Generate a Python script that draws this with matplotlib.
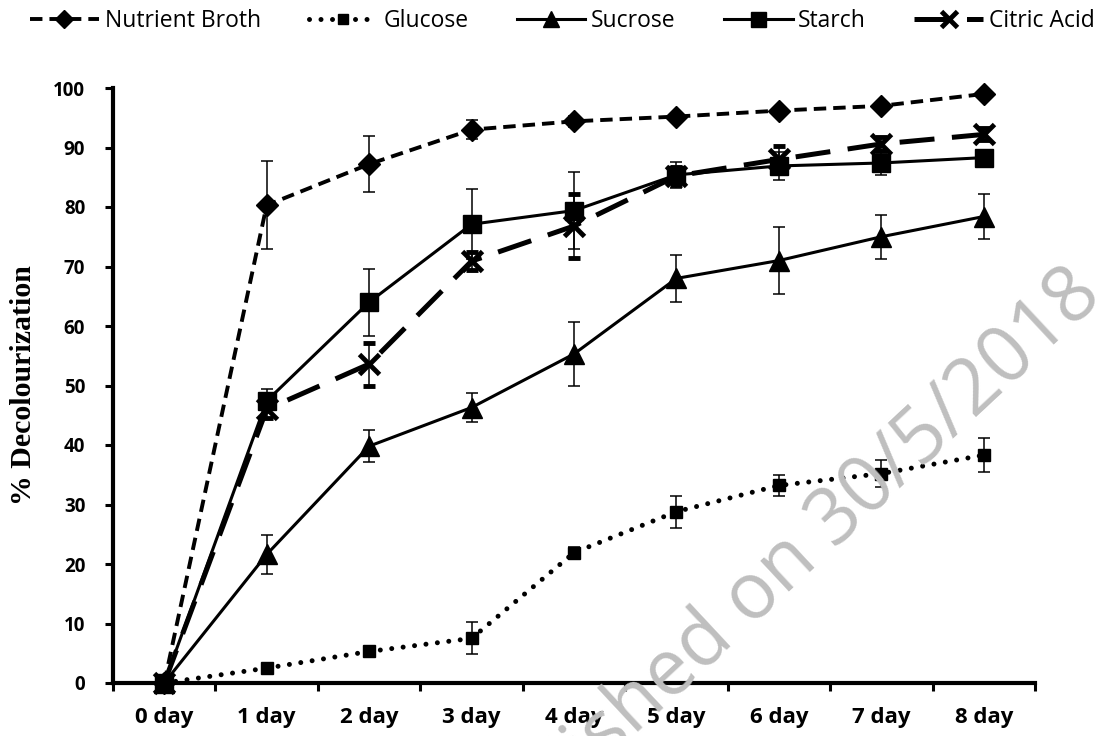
import numpy as np
import matplotlib.pyplot as plt

days = ["0 day", "1 day", "2 day", "3 day", "4 day", "5 day", "6 day", "7 day", "8 day"]

broth = [0, 80.3, 87.2, 93.0, 94.4, 95.2, 96.2, 97.0, 99.0]
broth_err = [0, 7.4, 4.7, 1.6, 0.9, 0.6, 0.6, 0.5, 0.5]
glucose = [0, 2.5, 5.3, 7.5, 21.9, 28.8, 33.2, 35.2, 38.3]
glucose_err = [0, 0.5, 0.8, 2.7, 1.0, 2.7, 1.8, 2.3, 2.9]
sucrose = [0, 21.6, 39.8, 46.3, 55.3, 68.0, 71.0, 75.0, 78.4]
sucrose_err = [0, 3.3, 2.7, 2.5, 5.4, 3.9, 5.6, 3.7, 3.8]
starch = [0, 47.4, 64.0, 77.1, 79.4, 85.4, 86.9, 87.4, 88.3]
starch_err = [0, 2.0, 5.6, 5.9, 6.5, 2.2, 2.4, 2.1, 1.0]
citric = [0, 46.0, 53.6, 70.9, 76.8, 85.2, 88.0, 90.6, 92.2]
citric_err = [0, 1.5, 3.6, 1.5, 5.4, 1.5, 2.2, 1.2, 1.0]

x = np.arange(len(days))

fig = plt.figure(figsize=(11.09, 7.36), dpi=100)
ax = fig.add_axes([113/1109, 1-683/736, (1035-113)/1109, (683-88)/736])

ebkw = dict(ecolor='black', elinewidth=1.1, capsize=4.5, capthick=1.1, clip_on=False)

c1 = ax.errorbar(x, broth, yerr=broth_err, color='black', lw=2.8, ls=(0, (3.2, 1.8)),
                 marker='D', ms=11, label="Nutrient Broth", **ebkw)
c2 = ax.errorbar(x, glucose, yerr=glucose_err, color='black', lw=3.6, ls=(0, (0.001, 2.3)),
                 dash_capstyle='round', marker='s', ms=8.5, label="Glucose", **ebkw)
c3 = ax.errorbar(x, sucrose, yerr=sucrose_err, color='black', lw=2.2, ls='-',
                 marker='^', ms=15, label="Sucrose", **ebkw)
c4 = ax.errorbar(x, starch, yerr=starch_err, color='black', lw=2.2, ls='-',
                 marker='s', ms=13.5, label="Starch", **ebkw)
c5 = ax.errorbar(x, citric, yerr=citric_err, color='black', lw=3.6, ls=(0, (7, 3.5)),
                 marker='x', ms=14, mew=3.5, label="Citric Acid", **ebkw)

ax.set_xlim(-0.5, 8.5)
ax.set_ylim(0, 100)
ax.set_yticks(np.arange(0, 101, 10))
ax.set_xticks(x)
ax.set_xticklabels(days)
ax.set_xticks(np.arange(-0.5, 9, 1), minor=True)

for s in ['top', 'right']:
    ax.spines[s].set_visible(False)
for s in ['left', 'bottom']:
    ax.spines[s].set_linewidth(3)

ax.tick_params(axis='y', direction='out', length=6, width=2.2, pad=14)
ax.tick_params(axis='x', which='major', length=0, pad=17)
ax.tick_params(axis='x', which='minor', direction='out', length=6, width=2.2)

for lab in ax.get_yticklabels():
    lab.set_fontfamily('Open Sans')
    lab.set_fontweight('bold')
    lab.set_fontsize(13.5)
for lab in ax.get_xticklabels():
    lab.set_fontfamily('Open Sans')
    lab.set_fontweight('bold')
    lab.set_fontsize(16)

ax.set_ylabel("% Decolourization", fontfamily='Liberation Serif', fontweight='bold', fontsize=21.5)
ax.yaxis.set_label_coords(-0.0824, 0.5)

handles = [c[0] for c in (c1, c2, c3, c4, c5)]
labels = ["Nutrient Broth", "Glucose", "Sucrose", "Starch", "Citric Acid"]
ax.legend(handles, labels, loc='center', bbox_to_anchor=(0.507, 1-21/736),
          bbox_transform=fig.transFigure, ncol=5, frameon=False,
          prop={'family': 'Open Sans', 'size': 16.5},
          handlelength=3.0, handletextpad=0.25, columnspacing=2.1, markerscale=0.8)

fig.text(1104/1109, 1-298/736, "Published on 30/5/2018", rotation=43, rotation_mode='anchor',
         ha='right', va='baseline', fontsize=56, color='#bfbfbf', fontfamily='Open Sans', zorder=10)

fig.savefig("out.png", dpi=100)
